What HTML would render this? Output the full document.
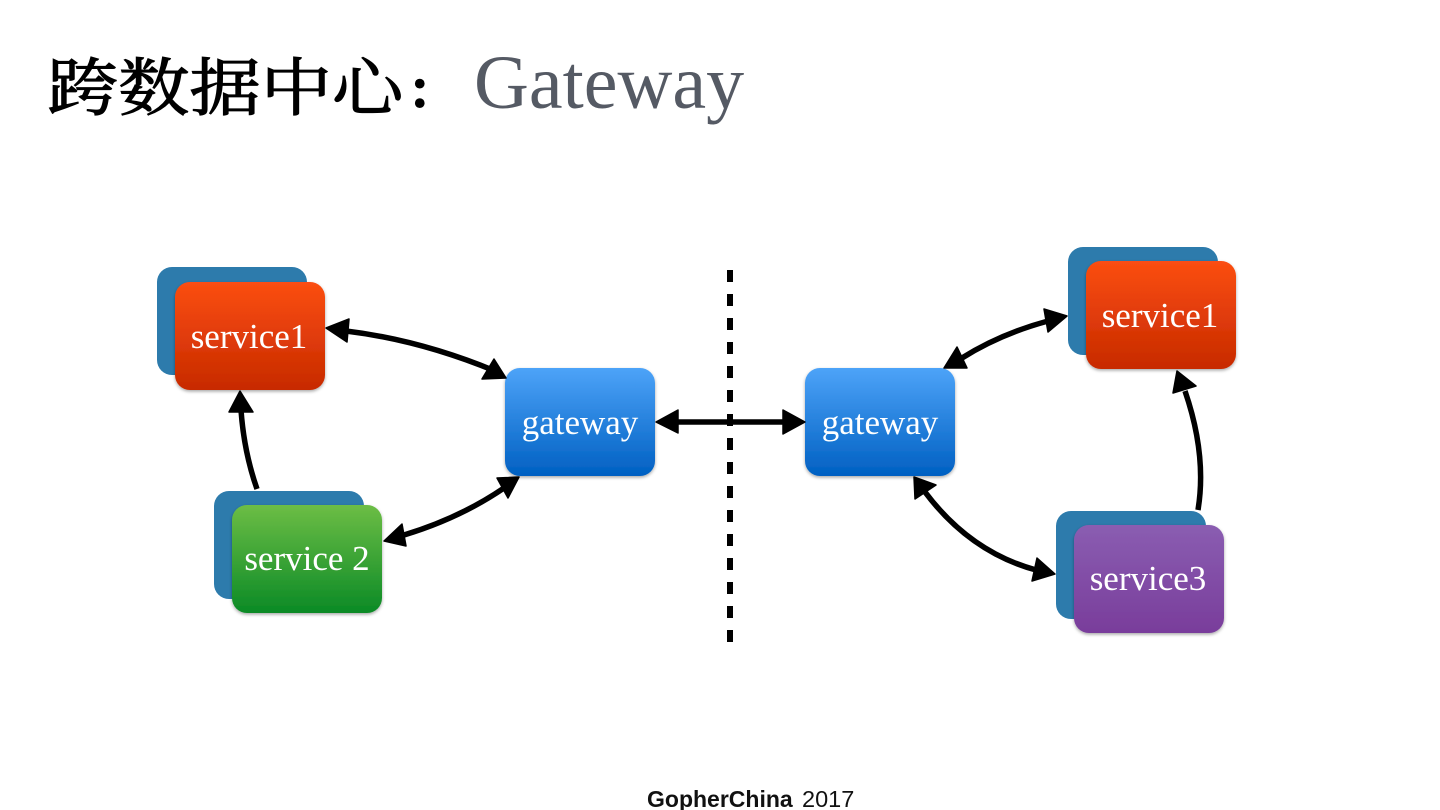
<!DOCTYPE html>
<html>
<head>
<meta charset="utf-8">
<style>
html,body{margin:0;padding:0;background:#fff;width:1440px;height:810px;overflow:hidden}
svg{display:block}
.l{font-family:"Liberation Serif",serif;font-size:35px;fill:#fff;text-anchor:middle}
</style>
</head>
<body>
<svg width="1440" height="810" viewBox="0 0 1440 810" xmlns="http://www.w3.org/2000/svg">
<defs>
<linearGradient id="r" x1="0" y1="0" x2="0" y2="1"><stop offset="0" stop-color="#fb4e12"/><stop offset="1" stop-color="#c72a00"/></linearGradient>
<linearGradient id="g" x1="0" y1="0" x2="0" y2="1"><stop offset="0" stop-color="#6cbd45"/><stop offset="1" stop-color="#0b8a26"/></linearGradient>
<linearGradient id="b" x1="0" y1="0" x2="0" y2="1"><stop offset="0" stop-color="#4da3f8"/><stop offset="1" stop-color="#0060c2"/></linearGradient>
<linearGradient id="p" x1="0" y1="0" x2="0" y2="1"><stop offset="0" stop-color="#8a5db1"/><stop offset="1" stop-color="#793d9b"/></linearGradient>
<filter id="s" x="-10%" y="-10%" width="120%" height="125%"><feDropShadow dx="0" dy="1.5" stdDeviation="1.5" flood-color="#000" flood-opacity="0.35"/></filter>
</defs>

<text transform="translate(47,110) scale(0.99,0.88)" font-family="'Noto Serif CJK SC',serif" font-size="72" fill="#000" stroke="#000" stroke-width="1.3">跨数据中心</text>
<text x="410" y="107" font-family="'Liberation Serif',serif" font-size="60" font-weight="bold" fill="#000">:</text>
<text x="474" y="108" font-family="'Liberation Serif',serif" font-size="76" fill="#555a64">Gateway</text>

<rect x="157" y="267" width="150" height="108" rx="15" fill="#2d7bac"/>
<rect x="175" y="282" width="150" height="108" rx="15" fill="url(#r)" filter="url(#s)"/>
<text class="l" x="249" y="348">service1</text>

<rect x="214" y="491" width="150" height="108" rx="15" fill="#2d7bac"/>
<rect x="232" y="505" width="150" height="108" rx="15" fill="url(#g)" filter="url(#s)"/>
<text class="l" x="307" y="570">service 2</text>

<rect x="505" y="368" width="150" height="108" rx="15" fill="url(#b)" filter="url(#s)"/>
<text class="l" x="580" y="434">gateway</text>
<rect x="805" y="368" width="150" height="108" rx="15" fill="url(#b)" filter="url(#s)"/>
<text class="l" x="880" y="434">gateway</text>

<rect x="1068" y="247" width="150" height="108" rx="15" fill="#2d7bac"/>
<rect x="1086" y="261" width="150" height="108" rx="15" fill="url(#r)" filter="url(#s)"/>
<text class="l" x="1160" y="327">service1</text>

<rect x="1056" y="511" width="150" height="108" rx="15" fill="#2d7bac"/>
<rect x="1074" y="525" width="150" height="108" rx="15" fill="url(#p)" filter="url(#s)"/>
<text class="l" x="1148" y="590">service3</text>

<line x1="730" y1="270" x2="730" y2="642" stroke="#000" stroke-width="6" stroke-dasharray="12 12"/>

<g fill="none" stroke="#000" stroke-width="5.5">
<path d="M346 331 Q420 340 495 371"/>
<path d="M241 410 Q244 452 257 489"/>
<path d="M404 535 Q460 518 504 488"/>
<path d="M676 422 L785 422"/>
<path d="M962 358 Q1000 334 1048 321"/>
<path d="M1185 391 Q1207 455 1198 510"/>
<path d="M925 492 Q970 552 1036 570"/>
</g>
<g fill="#000" stroke="#000" stroke-width="1.5" stroke-linejoin="round">
<polygon points="326,328 349,319 347,342"/>
<polygon points="506,378 494,359 482,379"/>
<polygon points="240,391 229,412 253,412"/>
<polygon points="384,541 402,524 406,546"/>
<polygon points="519,477 497,478 508,498"/>
<polygon points="656,422 678,410 678,433"/>
<polygon points="805,422 783,410 783,434"/>
<polygon points="944,368 957,347 967,368"/>
<polygon points="1067,316 1044,309 1048,332"/>
<polygon points="1177,371 1173,393 1196,386"/>
<polygon points="914,477 915,499 936,485"/>
<polygon points="1055,574 1037,558 1032,581"/>
</g>

<text x="647" y="807" font-family="'Liberation Sans',sans-serif" font-size="23" font-weight="bold" fill="#111">GopherChina</text>
<text x="802" y="807" font-family="'Liberation Sans',sans-serif" font-size="23.5" fill="#111">2017</text>
</svg>
</body>
</html>
